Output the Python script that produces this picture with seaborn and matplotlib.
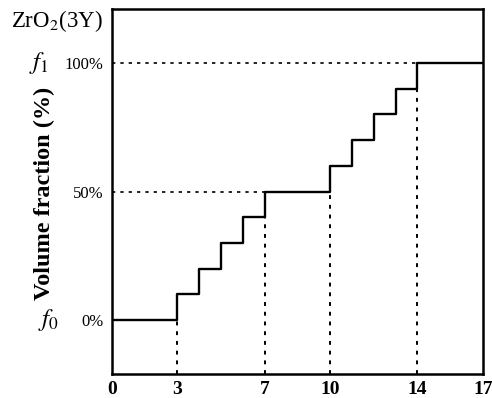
import matplotlib
matplotlib.use("Agg")
import matplotlib.pyplot as plt
import matplotlib.transforms as mtransforms
import seaborn as sns

# step profile of the graded layer
positions = [0, 3, 4, 5, 6, 7, 10, 11, 12, 13, 14, 17]
fractions = [0, 10, 20, 30, 40, 50, 60, 70, 80, 90, 100, 100]

x_ticks = [0, 3, 7, 10, 14, 17]
y_ticks = [0, 50, 100]
y_tick_labels = ["0%", "50%", "100%"]

# dotted guide lines: (x, top y) for verticals, (y, right x) for horizontals
vert_guides = [(3, 0), (7, 40), (10, 50), (14, 90)]
horiz_guides = [(50, 7), (100, 14)]

sns.set_theme(style="white")
plt.rcParams["font.family"] = ["Liberation Serif", "DejaVu Serif"]
plt.rcParams["mathtext.fontset"] = "stix"
plt.rcParams["text.color"] = "black"
plt.rcParams["xtick.color"] = "black"
plt.rcParams["ytick.color"] = "black"
plt.rcParams["axes.labelcolor"] = "black"

fig = plt.figure(figsize=(4.92, 3.98), dpi=100)
ax = fig.add_axes([0.2276, 0.0603, 0.754, 0.917])

sns.lineplot(x=positions, y=fractions, ax=ax, drawstyle="steps-post",
             color="black", linewidth=1.7, sort=True)

ymin, ymax = -21, 121
for x, top in vert_guides:
    ax.plot([x, x], [ymin, top], color="black", linestyle=(0, (2, 3)), linewidth=1.4)
for y, right in horiz_guides:
    ax.plot([0, right], [y, y], color="black", linestyle=(0, (2, 3)), linewidth=1.2)

ax.set_xlim(0, 17)
ax.set_ylim(ymin, ymax)
ax.set_xticks(x_ticks)
ax.set_xticklabels([str(t) for t in x_ticks], fontsize=14, fontweight="bold")
ax.set_yticks(y_ticks)
ax.set_yticklabels(y_tick_labels, fontsize=12)
ax.tick_params(axis="y", direction="out", length=5, width=1.2, color="black", pad=1)
ax.tick_params(axis="x", length=0, pad=5)
ax.grid(False)
for s in ax.spines.values():
    s.set_color("black")
    s.set_linewidth(1.8)
ax.set_xlabel("")
ax.set_ylabel("")

trans = mtransforms.blended_transform_factory(ax.transAxes, ax.transData)
ax.text(-0.197, 100, r"$f_1$", transform=trans, fontsize=18, ha="center", va="center")
ax.text(-0.172, 0, r"$f_0$", transform=trans, fontsize=18, ha="center", va="center")

fig.text(44 / 492, 1 - 193 / 398, "Volume fraction (%)", rotation=90,
         fontsize=17.5, fontweight="bold", ha="center", va="center")
fig.text(11 / 492, 1 - 21 / 398, r"ZrO$_2$(3Y)", fontsize=16.5, ha="left", va="center")

fig.savefig("out.png", dpi=100)
